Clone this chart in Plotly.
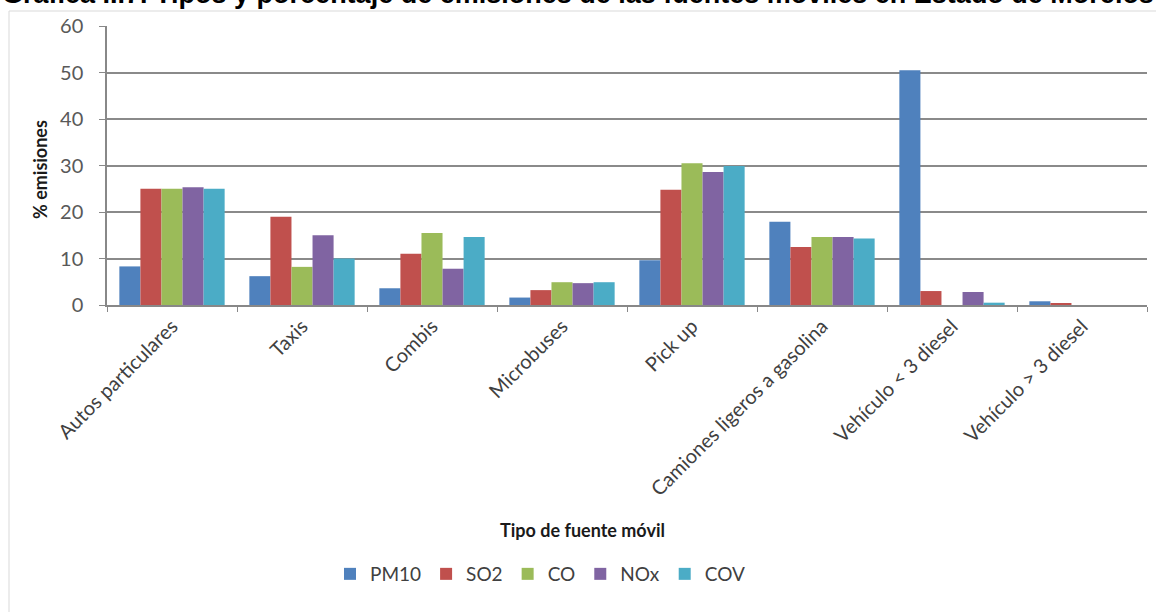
import plotly.graph_objects as go

categories = ["Autos particulares", "Taxis", "Combis", "Microbuses", "Pick up",
              "Camiones ligeros a gasolina", "Vehículo < 3 diesel", "Vehículo > 3 diesel"]
pm10 = [8.3, 6.2, 3.6, 1.6, 9.6, 17.9, 50.5, 0.8]
so2 = [25.0, 19.0, 11.0, 3.2, 24.8, 12.5, 3.0, 0.3]
co = [25.0, 8.2, 15.5, 4.9, 30.5, 14.6, 0.0, 0.0]
nox = [25.3, 15.0, 7.8, 4.7, 28.6, 14.6, 2.8, 0.0]
cov = [25.0, 10.0, 14.6, 4.9, 29.9, 14.3, 0.5, 0.0]
series_names = ["PM10", "SO2", "CO", "NOx", "COV"]
series_values = [pm10, so2, co, nox, cov]
colors = ["#4F81BD", "#C0504D", "#9BBB59", "#8064A2", "#4BACC6"]
y_ticks = [0, 10, 20, 30, 40, 50, 60]

fig = go.Figure()
for name, vals, col in zip(series_names, series_values, colors):
    fig.add_trace(go.Bar(name=name, x=categories, y=vals, marker_color=col,
                         marker_line_width=0))

W, H = 1156, 612
ml, mr, mt, mb = 107, 9, 26, 307
pw = W - ml - mr
ph = H - mt - mb

def px_x(p):
    return (p - ml) / pw

def px_y(p):
    return 1 - (p - mt) / ph

fig.update_layout(
    width=W, height=H,
    margin=dict(l=ml, r=mr, t=mt, b=mb),
    paper_bgcolor="white", plot_bgcolor="white",
    barmode="group", bargap=0.19, bargroupgap=0,
    font=dict(family="Lato, Open Sans, sans-serif", color="#404040"),
    xaxis=dict(
        range=[-0.5, 7.5], tickangle=-45, tickson="boundaries",
        ticks="outside", ticklen=5, tickcolor="#888",
        showline=True, linecolor="#888", linewidth=1.5,
        tickfont=dict(size=20, color="#404040"),
        automargin=False,
    ),
    yaxis=dict(
        range=[0, 60], tickvals=y_ticks, ticks="outside", ticklen=6, tickcolor="#888",
        showline=True, linecolor="#888", linewidth=1.5,
        showgrid=True, gridcolor="#8a8a8a", gridwidth=1.8,
        tickfont=dict(size=20, color="#595959"), ticklabelstandoff=12,
        zeroline=False, automargin=False,
    ),
    legend=dict(orientation="h", x=px_x(540), xanchor="center", y=px_y(574), yanchor="middle",
                font=dict(size=19, color="#404040"), itemwidth=30, traceorder="normal"),
    showlegend=True,
)

# axis titles
fig.add_annotation(text="<b>Tipo de fuente móvil</b>", xref="paper", yref="paper",
                   x=px_x(582), y=px_y(530), xanchor="center", yanchor="middle", showarrow=False,
                   font=dict(size=18, color="#1a1a1a"))
fig.add_annotation(text="<b>% emisiones</b>", xref="paper", yref="paper", textangle=-90,
                   x=px_x(40), y=px_y(170), xanchor="center", yanchor="middle", showarrow=False,
                   font=dict(size=18, color="#1a1a1a"))

fig.add_annotation(
    text="<b>Gráfica II.7. Tipos y porcentaje de emisiones de las fuentes móviles en Estado de Morelos</b>",
    xref="paper", yref="paper", x=px_x(0), y=px_y(-6), xanchor="left", yanchor="middle",
    showarrow=False, font=dict(family="Liberation Sans, Arial, sans-serif", size=27, color="#000"),
)

# chart-area border (left and top)
fig.add_shape(type="line", xref="paper", yref="paper", x0=px_x(9), x1=px_x(9), y0=px_y(11), y1=px_y(612),
              line=dict(color="#d9d9d9", width=1))
fig.add_shape(type="line", xref="paper", yref="paper", x0=px_x(9), x1=px_x(1156), y0=px_y(11), y1=px_y(11),
              line=dict(color="#d9d9d9", width=1))

fig.write_html("out.html", config={"displayModeBar": False},
               post_script="document.body.style.margin='0';document.body.style.overflow='hidden';")
